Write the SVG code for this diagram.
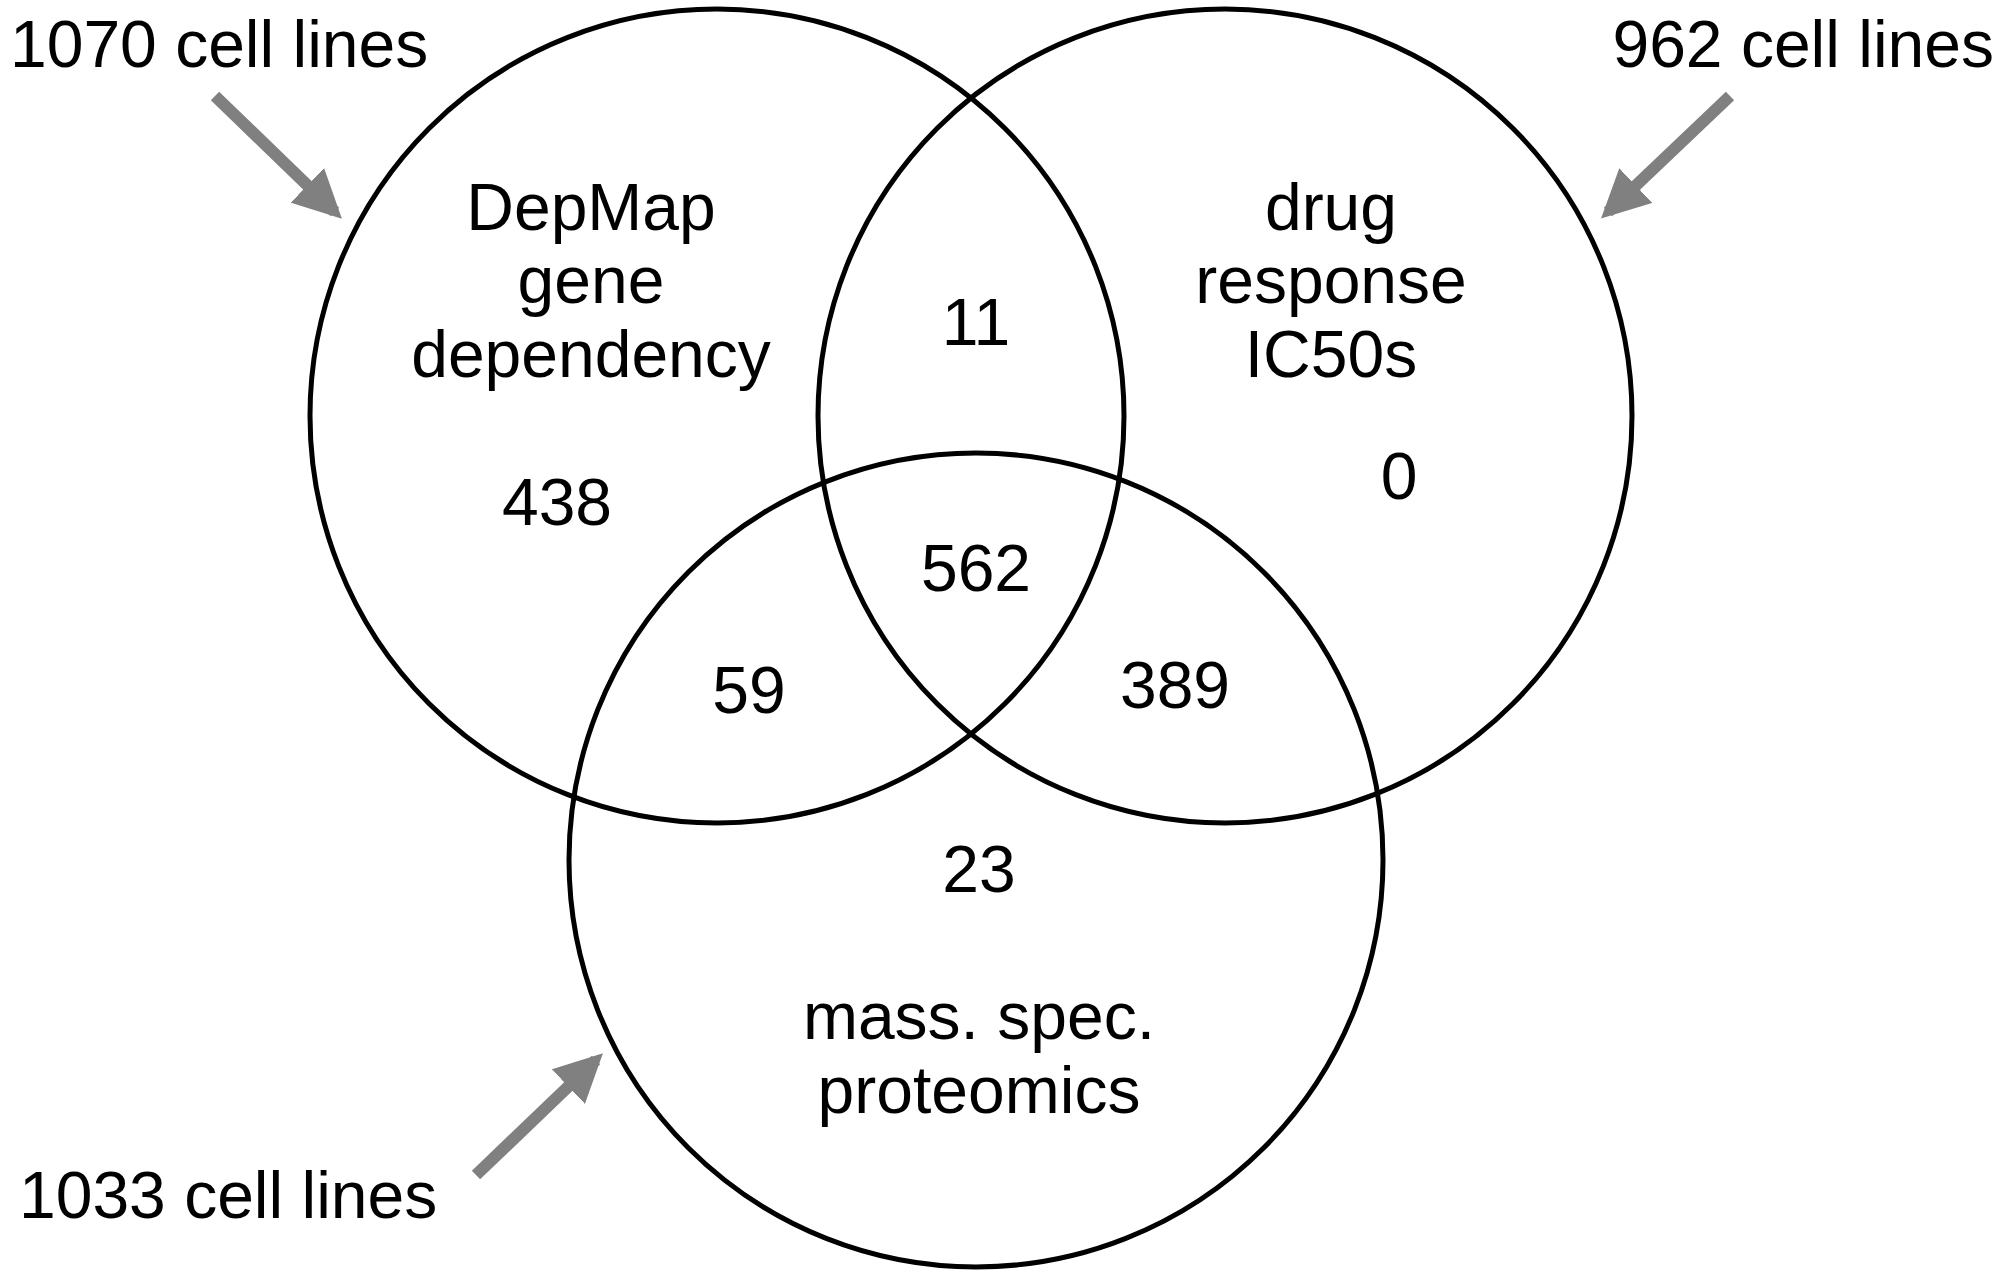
<svg xmlns="http://www.w3.org/2000/svg" width="2000" height="1277" viewBox="0 0 2000 1277">
<style>
text{font-family:"Liberation Sans",Arial,sans-serif;font-size:66px;fill:#000}
.m{text-anchor:middle}
.c{fill:none;stroke:#000;stroke-width:5}
.a{stroke:#808080;stroke-width:12;fill:none}
</style>
<defs><marker id="h" viewBox="0 0 10 10" refX="8" refY="5" markerWidth="4" markerHeight="4" orient="auto" markerUnits="strokeWidth"><path d="M0,0L10,5L0,10z" fill="#808080"/></marker></defs>
<rect width="2000" height="1277" fill="#fff"/>
<g id="connectors">
<line class="a" x1="215" y1="96" x2="335" y2="212" marker-end="url(#h)"/>
<line class="a" x1="1730" y1="96" x2="1608" y2="212" marker-end="url(#h)"/>
<line class="a" x1="476" y1="1175" x2="596" y2="1060" marker-end="url(#h)"/>
</g>
<g id="depmap"><circle class="c" cx="717" cy="416" r="407"/>
<text class="m" x="591" y="230">DepMap</text><text class="m" x="591" y="303">gene</text><text class="m" x="591" y="377">dependency</text></g>
<g id="drug"><circle class="c" cx="1225" cy="416" r="407"/>
<text class="m" x="1331" y="230">drug</text><text class="m" x="1331" y="303">response</text><text class="m" x="1331" y="377">IC50s</text></g>
<g id="proteomics"><circle class="c" cx="976" cy="860" r="407"/>
<text class="m" x="979" y="1039">mass. spec.</text><text class="m" x="979" y="1113">proteomics</text></g>
<g id="counts">
<text class="m" x="976" y="345">11</text><text class="m" x="557" y="525">438</text><text class="m" x="1399" y="499">0</text>
<text class="m" x="976" y="591">562</text><text class="m" x="749" y="713">59</text><text class="m" x="1175" y="708">389</text><text class="m" x="979" y="892">23</text>
</g>
<g id="labels">
<text x="10" y="67">1070 cell lines</text>
<text x="1994" y="67" text-anchor="end">962 cell lines</text>
<text x="19" y="1218">1033 cell lines</text>
</g>
</svg>
